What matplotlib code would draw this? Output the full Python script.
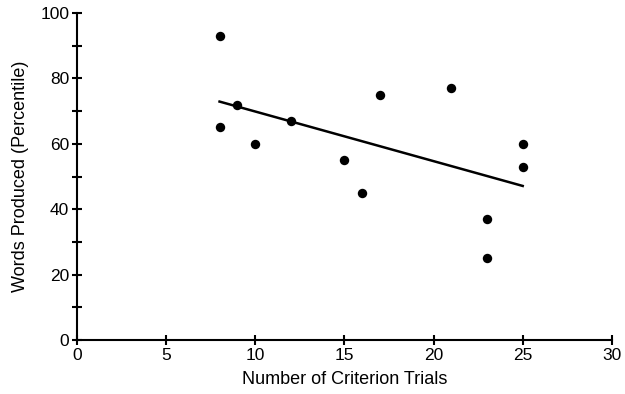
import numpy as np
import matplotlib
matplotlib.use("Agg")
import matplotlib.pyplot as plt
from matplotlib.ticker import MultipleLocator

plt.rcParams['font.family'] = ['Liberation Sans', 'DejaVu Sans']

# criterion trials vs words produced percentile
trials = [8, 8, 9, 10, 12, 15, 16, 17, 21, 23, 23, 25, 25]
words = [93, 65, 72, 60, 67, 55, 45, 75, 77, 37, 25, 60, 53]

x = np.array(trials, dtype=float)
y = np.array(words, dtype=float)
slope, icpt = np.polyfit(x, y, 1)
xl = np.array([x.min(), x.max()])

fig = plt.figure(figsize=(6.25, 3.94), dpi=100)
ax = fig.add_axes([0.123, 0.137, 0.856, 0.830])

ax.scatter(x, y, s=46, color='black', zorder=3, linewidths=0)
ax.plot(xl, slope * xl + icpt, color='black', lw=1.8)

ax.set_xlim(0, 30)
ax.set_ylim(0, 100)
ax.xaxis.set_major_locator(MultipleLocator(5))
ax.yaxis.set_major_locator(MultipleLocator(20))
ax.yaxis.set_minor_locator(MultipleLocator(10))
ax.tick_params(which='both', direction='inout', width=1.5, labelsize=12.5, pad=2)
ax.tick_params(which='major', length=7)
ax.tick_params(which='minor', length=7)

for s in ['top', 'right']:
    ax.spines[s].set_visible(False)
for s in ['left', 'bottom']:
    ax.spines[s].set_linewidth(1.5)

ax.set_xlabel('Number of Criterion Trials', fontsize=13, labelpad=6)
ax.set_ylabel('Words Produced (Percentile)', fontsize=13, labelpad=8)

fig.savefig('out.png', dpi=100)
